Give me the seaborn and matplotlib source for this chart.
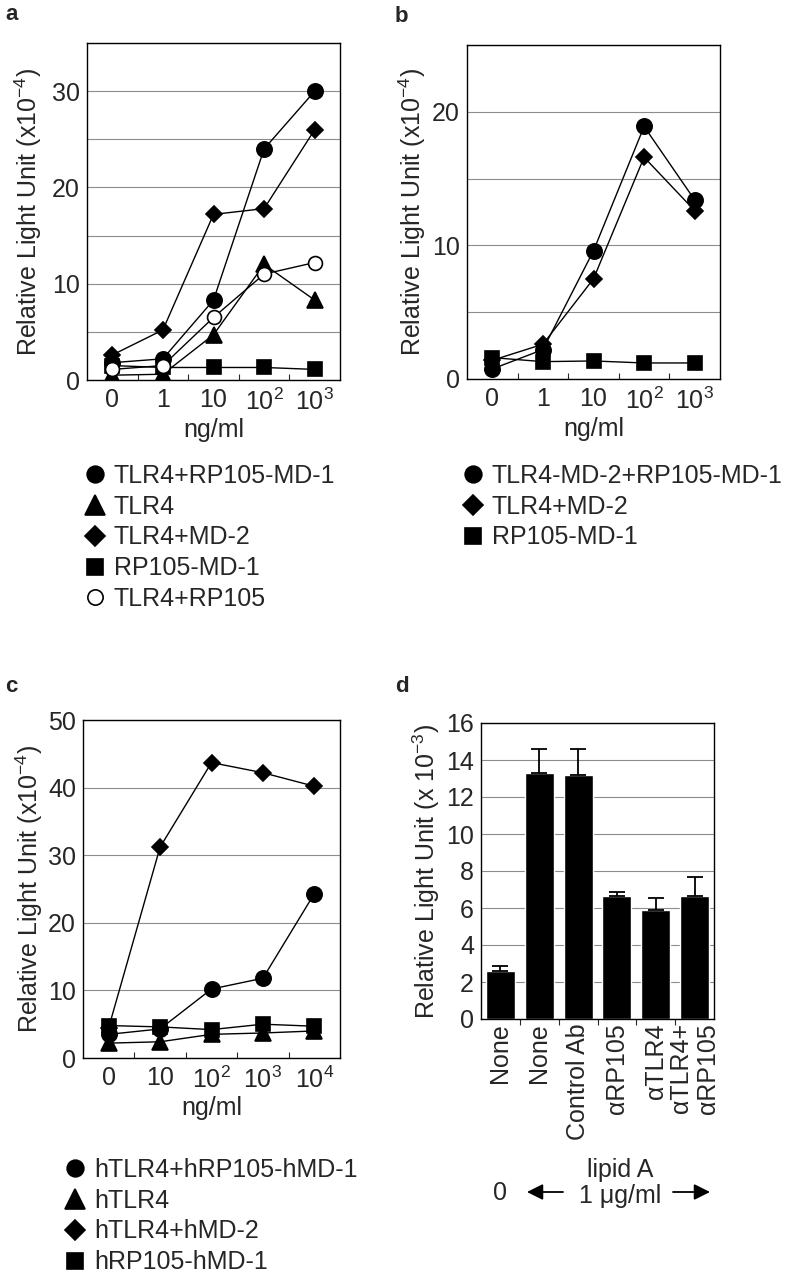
import numpy as np
import pandas as pd
import matplotlib
matplotlib.use("Agg")
import matplotlib.pyplot as plt
import seaborn as sns
from matplotlib.lines import Line2D
from matplotlib.ticker import MultipleLocator, FixedLocator

# ---- data ----
# panel a: mouse transfectants, lipid A dose
conc_a = ["0", "1", "10", r"10$^{\mathrm{2}}$", r"10$^{\mathrm{3}}$"]
a_names = ["TLR4+RP105-MD-1", "TLR4", "TLR4+MD-2", "RP105-MD-1", "TLR4+RP105"]
a_tlr4_rp105_md1 = [1.8, 2.2, 8.3, 24.0, 30.0]
a_tlr4 = [0.5, 0.6, 4.7, 12.0, 8.3]
a_tlr4_md2 = [2.6, 5.2, 17.2, 17.8, 26.0]
a_rp105_md1 = [1.5, 1.3, 1.3, 1.3, 1.1]
a_tlr4_rp105 = [1.1, 1.5, 6.5, 11.0, 12.2]

# panel b
conc_b = ["0", "1", "10", r"10$^{\mathrm{2}}$", r"10$^{\mathrm{3}}$"]
b_names = ["TLR4-MD-2+RP105-MD-1", "TLR4+MD-2", "RP105-MD-1"]
b_tlr4_md2_rp105_md1 = [0.75, 2.2, 9.6, 18.9, 13.4]
b_tlr4_md2 = [1.4, 2.6, 7.5, 16.6, 12.6]
b_rp105_md1 = [1.6, 1.3, 1.35, 1.2, 1.2]

# panel c: human transfectants
conc_c = ["0", "10", r"10$^{\mathrm{2}}$", r"10$^{\mathrm{3}}$", r"10$^{\mathrm{4}}$"]
c_names = ["hTLR4+hRP105-hMD-1", "hTLR4", "hTLR4+hMD-2", "hRP105-hMD-1"]
c_htlr4_hrp105_hmd1 = [3.5, 4.3, 10.2, 11.8, 24.3]
c_htlr4 = [2.2, 2.4, 3.5, 3.7, 4.0]
c_htlr4_hmd2 = [4.5, 31.2, 43.7, 42.2, 40.2]
c_hrp105_hmd1 = [4.8, 4.6, 4.2, 5.0, 4.7]

# panel d: antibody blocking
d_labels = ["None", "None", "Control Ab", "\u03b1RP105", "\u03b1TLR4", "\u03b1TLR4+\n\u03b1RP105"]
d_values = [2.6, 13.3, 13.2, 6.65, 5.9, 6.65]
d_err = [0.25, 1.3, 1.4, 0.2, 0.65, 1.0]

# ---- style ----
sns.set_theme(style="white")
plt.rcParams["font.family"] = ["Liberation Sans", "DejaVu Sans"]
plt.rcParams["mathtext.fontset"] = "custom"
plt.rcParams["mathtext.rm"] = "Liberation Sans"
plt.rcParams["mathtext.it"] = "Liberation Sans:italic"
plt.rcParams["mathtext.bf"] = "Liberation Sans:bold"
FS = 18

W, H = 791, 1280
fig = plt.figure(figsize=(W / 100, H / 100), dpi=100)


def px_axes(left, top, right, bottom):
    return fig.add_axes([left / W, 1 - bottom / H, (right - left) / W, (bottom - top) / H])


def style_axes(ax, ymax, grid_step, label_step, ylabel, label_x):
    ax.set_ylim(0, ymax)
    ax.yaxis.set_major_locator(MultipleLocator(label_step))
    ax.yaxis.set_minor_locator(MultipleLocator(grid_step))
    ax.grid(True, which="both", axis="y", color="0.55", lw=0.8)
    ax.grid(False, axis="x")
    ax.set_axisbelow(True)
    for s in ax.spines.values():
        s.set_color("black")
        s.set_linewidth(1.0)
        s.set_visible(True)
    ax.tick_params(axis="y", which="both", length=0, pad=5, labelsize=FS)
    ax.set_ylabel(ylabel, fontsize=FS, va="center")
    ax.yaxis.set_label_coords(label_x, 0.5)


def line_panel(ax, conc, series, markers, sizes, faces, xlabel):
    x = np.arange(len(conc))
    for vals, m, ms, fc in zip(series, markers, sizes, faces):
        sns.lineplot(x=x, y=vals, marker=m, markersize=ms, color="black", lw=1.0,
                     markerfacecolor=fc, markeredgecolor="black", markeredgewidth=1.2,
                     legend=False, ax=ax)
    ax.set_xlim(-0.5, len(conc) - 0.5)
    ax.set_xticks(x)
    ax.set_xticklabels(conc, fontsize=FS)
    ax.xaxis.set_minor_locator(FixedLocator(np.arange(0.5, len(conc) - 0.5)))
    ax.tick_params(axis="x", which="major", length=0, pad=6)
    ax.tick_params(axis="x", which="minor", direction="in", length=4, width=0.8, bottom=True)
    ax.set_xlabel(xlabel, fontsize=FS, labelpad=2)


def legend_below(ax, names, markers, sizes, faces, left, top):
    handles = [Line2D([], [], ls="none", marker=m, markersize=ms, color="black",
                      markerfacecolor=fc, markeredgecolor="black", markeredgewidth=1.2)
               for m, ms, fc in zip(markers, sizes, faces)]
    ax.legend(handles, names, loc="upper left", bbox_to_anchor=(left / W, 1 - top / H),
              bbox_transform=fig.transFigure, frameon=False, fontsize=FS,
              handlelength=0.8, handletextpad=0.35, labelspacing=0.27, borderpad=0,
              borderaxespad=0)


ylab4 = r"Relative Light Unit (x10$^{-4}$)"

# panel a
ax_a = px_axes(87, 43, 340, 380)
a_markers = ["o", "^", "D", "s", "o"]
a_sizes = [11, 12, 8.5, 10, 10]
a_faces = ["black", "black", "black", "black", "white"]
line_panel(ax_a, conc_a, [a_tlr4_rp105_md1, a_tlr4, a_tlr4_md2, a_rp105_md1, a_tlr4_rp105],
           a_markers, a_sizes, a_faces, "ng/ml")
style_axes(ax_a, 35, 5, 10, ylab4, (28 - 87) / 253)
legend_below(ax_a, a_names, a_markers, [12, 14, 10, 11, 11], a_faces, 85, 464)

# panel b
ax_b = px_axes(467, 45, 720, 379)
b_markers = ["o", "D", "s"]
b_faces = ["black", "black", "black"]
line_panel(ax_b, conc_b, [b_tlr4_md2_rp105_md1, b_tlr4_md2, b_rp105_md1],
           b_markers, [11, 8.5, 10], b_faces, "ng/ml")
style_axes(ax_b, 25, 5, 10, ylab4, (412 - 467) / 253)
legend_below(ax_b, b_names, b_markers, [12, 10, 11], b_faces, 463, 464)

# panel c
ax_c = px_axes(83, 720, 340, 1058)
c_markers = ["o", "^", "D", "s"]
c_faces = ["black"] * 4
line_panel(ax_c, conc_c, [c_htlr4_hrp105_hmd1, c_htlr4, c_htlr4_hmd2, c_hrp105_hmd1],
           c_markers, [11, 12, 8.5, 10], c_faces, "ng/ml")
style_axes(ax_c, 50, 10, 10, ylab4, (29 - 83) / 257)
legend_below(ax_c, c_names, c_markers, [12, 14, 10, 11], c_faces, 65, 1158)

# panel d
ax_d = px_axes(481, 723, 714, 1019)
df_d = pd.DataFrame({"group": np.arange(len(d_values)), "rlu": d_values})
sns.barplot(data=df_d, x="group", y="rlu", color="black", width=0.75,
            errorbar=None, saturation=1, ax=ax_d)
ax_d.errorbar(np.arange(len(d_values)), d_values, yerr=[np.zeros(len(d_err)), d_err],
              fmt="none", ecolor="black", elinewidth=1.3, capsize=6, capthick=1.3)
ax_d.set_xlim(-0.5, len(d_values) - 0.5)
ax_d.set_xticks(np.arange(len(d_values)))
ax_d.set_xticklabels(d_labels, rotation=90, fontsize=FS, va="top", ha="center",
                     multialignment="right")
ax_d.xaxis.set_minor_locator(FixedLocator(np.arange(0.5, len(d_values) - 0.5)))
ax_d.tick_params(axis="x", which="major", length=0, pad=3)
ax_d.tick_params(axis="x", which="minor", direction="out", length=4, width=0.8, bottom=True)
ax_d.set_xlabel("")
style_axes(ax_d, 16, 2, 2, r"Relative Light Unit (x 10$^{-3}$)", (426 - 481) / 233)

# lipid A annotation under panel d
fig.text(620 / W, 1 - 1177 / H, "lipid A", fontsize=FS, ha="center", va="baseline")
fig.text(620 / W, 1 - 1203 / H, "1 \u03bcg/ml", fontsize=FS, ha="center", va="baseline")
fig.text(500 / W, 1 - 1200 / H, "0", fontsize=FS, ha="center", va="baseline")
arrow = dict(arrowstyle="-|>", color="black", lw=1.3, mutation_scale=24, shrinkA=0, shrinkB=0)
fig.add_artist(matplotlib.patches.FancyArrowPatch((563 / W, 1 - 1192 / H), (527 / W, 1 - 1192 / H),
                                                  transform=fig.transFigure, **arrow))
fig.add_artist(matplotlib.patches.FancyArrowPatch((673 / W, 1 - 1192 / H), (710 / W, 1 - 1192 / H),
                                                  transform=fig.transFigure, **arrow))

# panel letters
for letter, x, y in [("a", 5, 20), ("b", 395, 22), ("c", 5, 692), ("d", 395, 692)]:
    fig.text(x / W, 1 - y / H, letter, fontsize=16, fontweight="bold", ha="left", va="baseline")

fig.savefig("out.png", dpi=100)
